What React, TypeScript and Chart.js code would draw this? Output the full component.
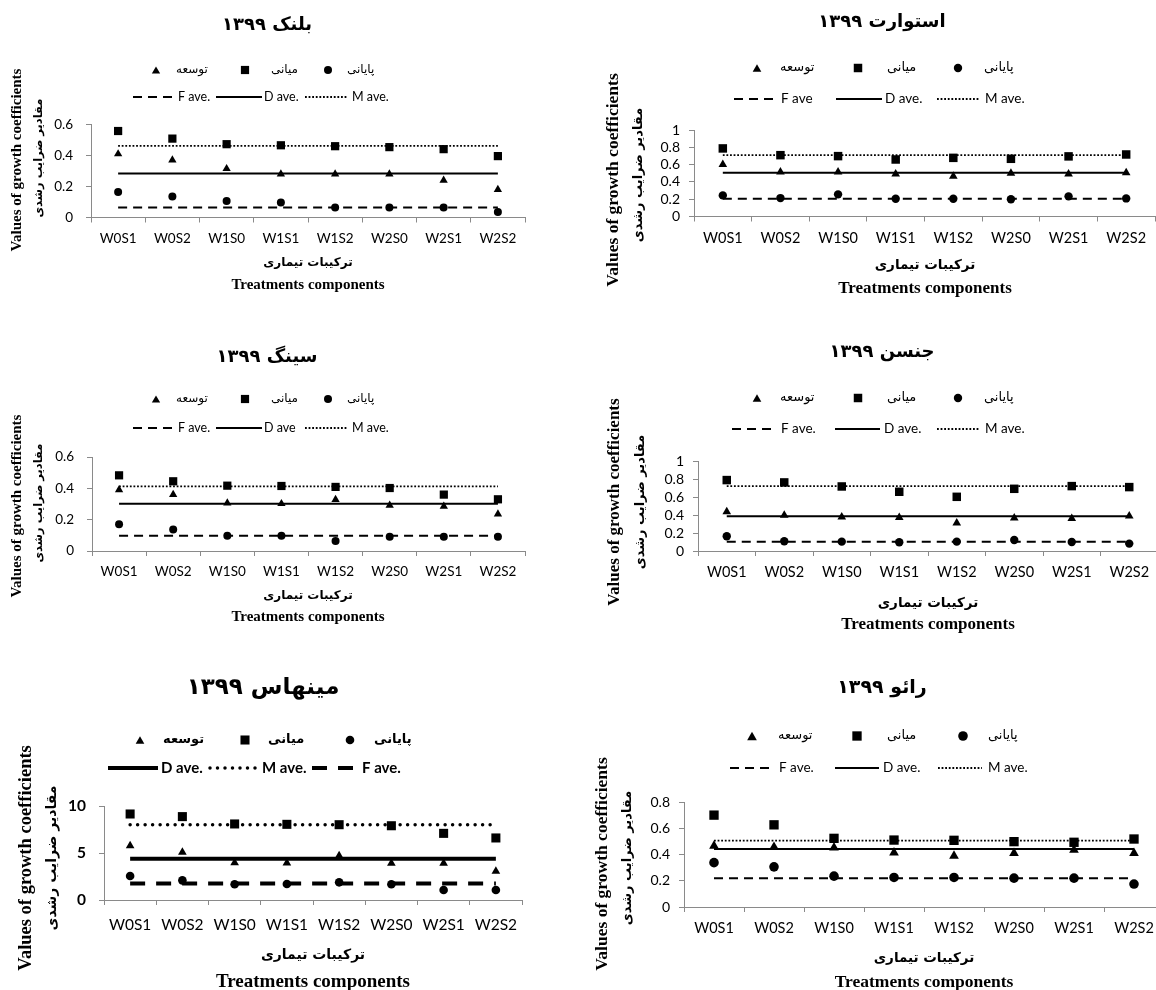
import React, { useEffect, useRef } from 'react';
import { Chart, registerables } from 'chart.js';

Chart.register(...registerables);

// ---------------- shared texts ----------------
const categories = ['W0S1', 'W0S2', 'W1S0', 'W1S1', 'W1S2', 'W2S0', 'W2S1', 'W2S2'];
const markerLabels = ['توسعه', 'میانی', 'پایانی']; // triangle, square, circle
const xTitleFa = 'ترکیبات تیماری';
const xTitleEn = 'Treatments components';
const yTitleEn = 'Values of growth coefficients';
const yTitleFa = 'مقادیر ضرایب رشدی';

// ---------------- بلنک ----------------
const blankTitle = 'بلنک ۱۳۹۹';
const blankDevelopment = [0.41, 0.37, 0.315, 0.28, 0.28, 0.28, 0.24, 0.18];
const blankMiddle = [0.558, 0.509, 0.473, 0.466, 0.46, 0.454, 0.441, 0.396];
const blankFinal = [0.165, 0.136, 0.106, 0.097, 0.064, 0.064, 0.064, 0.036];
const blankAverages = [0.064, 0.284, 0.462]; // F, D, M
const blankAverageLabels = ['F ave.', 'D ave.', 'M ave.'];
const blankYTicks = [0, 0.2, 0.4, 0.6];

// ---------------- استوارت ----------------
const stewartTitle = 'استوارت ۱۳۹۹';
const stewartDevelopment = [0.6, 0.515, 0.515, 0.49, 0.465, 0.5, 0.49, 0.505];
const stewartMiddle = [0.787, 0.709, 0.698, 0.659, 0.678, 0.667, 0.695, 0.717];
const stewartFinal = [0.244, 0.213, 0.256, 0.205, 0.205, 0.2, 0.233, 0.209];
const stewartAverages = [0.205, 0.505, 0.71];
const stewartAverageLabels = ['F ave', 'D ave.', 'M ave.'];
const stewartYTicks = [0, 0.2, 0.4, 0.6, 0.8, 1];

// ---------------- سینگ ----------------
const singhTitle = 'سینگ ۱۳۹۹';
const singhDevelopment = [0.39, 0.36, 0.306, 0.302, 0.328, 0.291, 0.285, 0.236];
const singhMiddle = [0.483, 0.445, 0.417, 0.415, 0.409, 0.402, 0.36, 0.33];
const singhFinal = [0.17, 0.138, 0.098, 0.098, 0.064, 0.091, 0.091, 0.091];
const singhAverages = [0.098, 0.302, 0.413];
const singhAverageLabels = ['F ave.', 'D ave', 'M ave.'];
const singhYTicks = [0, 0.2, 0.4, 0.6];

// ---------------- جنسن ----------------
const jensenTitle = 'جنسن ۱۳۹۹';
const jensenDevelopment = [0.435, 0.398, 0.379, 0.372, 0.312, 0.368, 0.361, 0.39];
const jensenMiddle = [0.788, 0.762, 0.717, 0.658, 0.602, 0.691, 0.721, 0.71];
const jensenFinal = [0.164, 0.108, 0.104, 0.097, 0.104, 0.123, 0.1, 0.082];
const jensenAverages = [0.104, 0.387, 0.721];
const jensenAverageLabels = ['F ave.', 'D ave.', 'M ave.'];
const jensenYTicks = [0, 0.2, 0.4, 0.6, 0.8, 1];

// ---------------- مینهاس ----------------
const minhasTitle = 'مینهاس ۱۳۹۹';
const minhasDevelopment = [5.78, 5.07, 3.97, 3.94, 4.7, 3.9, 3.9, 3.05];
const minhasMiddle = [9.15, 8.87, 8.09, 8.05, 8.01, 7.9, 7.09, 6.6];
const minhasFinal = [2.55, 2.09, 1.67, 1.7, 1.88, 1.67, 1.06, 1.06];
const minhasAverages = [1.75, 4.4, 8.0];
const minhasAverageLabels = ['F ave.', 'D ave.', 'M ave.'];
const minhasYTicks = [0, 5, 10];

// ---------------- رائو ----------------
const raoTitle = 'رائو ۱۳۹۹';
const raoDevelopment = [0.465, 0.457, 0.452, 0.414, 0.389, 0.41, 0.434, 0.41];
const raoMiddle = [0.7, 0.626, 0.523, 0.51, 0.508, 0.498, 0.493, 0.518];
const raoFinal = [0.338, 0.306, 0.235, 0.225, 0.225, 0.22, 0.22, 0.175];
const raoAverages = [0.22, 0.442, 0.505];
const raoAverageLabels = ['F ave.', 'D ave.', 'M ave.'];
const raoYTicks = [0, 0.2, 0.4, 0.6, 0.8];

// ---------------- styles / layout ----------------
const AXIS = '#8a8a8a';
const FA = '"DejaVu Sans"';
const SERIF = '"Liberation Serif", "Times New Roman", serif';
const SANS = 'Lato, "Liberation Sans", sans-serif';

type LineStyle = { width: number; dash: number[]; cap: CanvasLineCap };
const thinLines: LineStyle[] = [
  { width: 2, dash: [9, 6], cap: 'butt' },
  { width: 2, dash: [], cap: 'butt' },
  { width: 1.8, dash: [1.8, 1.8], cap: 'butt' },
];
const boldLines: LineStyle[] = [
  { width: 4, dash: [15, 11], cap: 'butt' },
  { width: 4, dash: [], cap: 'butt' },
  { width: 3.5, dash: [0, 7.5], cap: 'round' },
];

const leftSmallText = {
  faLegendFont: `12px ${FA}`,
  enLegendFont: `12.5px ${SANS}`,
  tickSize: 13.5,
  yTickSize: 13.5,
  yTickBold: false,
  xTickPad: 8,
  yTickPad: 13,
  pointR: [4.8, 5.8, 4],
  lines: thinLines,
};
const rightText = {
  faLegendFont: `13px ${FA}`,
  enLegendFont: `13.5px ${SANS}`,
  tickSize: 14.5,
  yTickSize: 14,
  yTickBold: false,
  xTickPad: 8,
  yTickPad: 9,
  pointR: [5, 6, 4.2],
  lines: thinLines,
};

const blankLayout = {
  ...leftSmallText,
  box: [0, 0, 580, 322],
  area: [91, 124.5, 525, 217.5],
  title: { x: 267, y: 25, size: 18 },
  legendY: [70, 97],
  markerX: [156, 245, 328],
  markerTextX: [176, 271, 347],
  lineSampleX: [[133, 175, 178], [216, 262, 264], [305, 348, 352]],
  xTitle: { x: 308, y: [263, 285], fonts: [`bold 12px ${FA}`, `bold 15px ${SERIF}`] },
  yTitle: { x: [17, 39], y: [160, 158], fonts: [`bold 15px ${SERIF}`, `bold 11.5px ${FA}`] },
};
const singhLayout = {
  ...leftSmallText,
  box: [0, 330, 580, 322],
  area: [92, 457, 525, 551],
  title: { x: 267, y: 357, size: 18 },
  legendY: [399, 428],
  markerX: [156, 245, 328],
  markerTextX: [176, 271, 347],
  lineSampleX: [[133, 175, 178], [216, 262, 264], [305, 348, 352]],
  xTitle: { x: 308, y: [596, 617], fonts: [`bold 12px ${FA}`, `bold 15px ${SERIF}`] },
  yTitle: { x: [17, 39], y: [506, 503], fonts: [`bold 15px ${SERIF}`, `bold 11.5px ${FA}`] },
};
const minhasLayout = {
  faLegendFont: `bold 13px ${FA}`,
  enLegendFont: `bold 15px ${SANS}`,
  tickSize: 15.5,
  yTickSize: 15.5,
  yTickBold: true,
  xTickPad: 11,
  yTickPad: 13,
  pointR: [5, 6.4, 4.3],
  lines: boldLines,
  box: [0, 660, 580, 330],
  area: [104, 806, 522, 900],
  title: { x: 263, y: 688, size: 23 },
  legendY: [740, 768],
  markerX: [140, 245, 350],
  markerTextX: [163, 268, 374],
  lineSampleX: [[312, 353, 362], [108, 158, 161], [210, 257, 262]],
  xTitle: { x: 313, y: [955, 982], fonts: [`bold 14px ${FA}`, `bold 19px ${SERIF}`] },
  yTitle: { x: [26, 52], y: [858, 858], fonts: [`bold 18.5px ${SERIF}`, `bold 14px ${FA}`] },
};
const stewartLayout = {
  ...rightText,
  box: [580, 0, 600, 322],
  area: [694, 130, 1155, 216.5],
  title: { x: 882, y: 22, size: 18 },
  legendY: [68, 99],
  markerX: [757, 858, 958],
  markerTextX: [780, 887, 984],
  lineSampleX: [[734, 776, 781], [836, 882, 885], [937, 980, 985]],
  xTitle: { x: 925, y: [265, 289], fonts: [`bold 13.5px ${FA}`, `bold 17px ${SERIF}`] },
  yTitle: { x: [613, 639], y: [180, 175], fonts: [`bold 17.5px ${SERIF}`, `bold 13px ${FA}`] },
};
const jensenLayout = {
  ...rightText,
  box: [580, 330, 600, 322],
  area: [698, 461, 1158, 551],
  title: { x: 882, y: 352, size: 18 },
  legendY: [398, 429],
  markerX: [757, 858, 958],
  markerTextX: [780, 887, 984],
  lineSampleX: [[732, 776, 781], [835, 880, 884], [937, 980, 985]],
  xTitle: { x: 928, y: [603, 625], fonts: [`bold 13.5px ${FA}`, `bold 17px ${SERIF}`] },
  yTitle: { x: [615, 641], y: [502, 502], fonts: [`bold 17px ${SERIF}`, `bold 13px ${FA}`] },
};
const raoLayout = {
  ...rightText,
  pointR: [5.6, 6.6, 4.8],
  box: [580, 660, 600, 330],
  area: [684, 802, 1164, 907],
  title: { x: 882, y: 688, size: 19 },
  legendY: [736, 768],
  markerX: [752, 857, 963],
  markerTextX: [778, 887, 988],
  lineSampleX: [[730, 774, 779], [835, 879, 883], [938, 982, 988]],
  xTitle: { x: 924, y: [958, 982], fonts: [`bold 13.5px ${FA}`, `bold 17.5px ${SERIF}`] },
  yTitle: { x: [602, 628], y: [864, 858], fonts: [`bold 17.5px ${SERIF}`, `bold 13px ${FA}`] },
};

const panels = [
  { title: blankTitle, development: blankDevelopment, middle: blankMiddle, final: blankFinal, averages: blankAverages, averageLabels: blankAverageLabels, yTicks: blankYTicks, layout: blankLayout },
  { title: stewartTitle, development: stewartDevelopment, middle: stewartMiddle, final: stewartFinal, averages: stewartAverages, averageLabels: stewartAverageLabels, yTicks: stewartYTicks, layout: stewartLayout },
  { title: singhTitle, development: singhDevelopment, middle: singhMiddle, final: singhFinal, averages: singhAverages, averageLabels: singhAverageLabels, yTicks: singhYTicks, layout: singhLayout },
  { title: jensenTitle, development: jensenDevelopment, middle: jensenMiddle, final: jensenFinal, averages: jensenAverages, averageLabels: jensenAverageLabels, yTicks: jensenYTicks, layout: jensenLayout },
  { title: minhasTitle, development: minhasDevelopment, middle: minhasMiddle, final: minhasFinal, averages: minhasAverages, averageLabels: minhasAverageLabels, yTicks: minhasYTicks, layout: minhasLayout },
  { title: raoTitle, development: raoDevelopment, middle: raoMiddle, final: raoFinal, averages: raoAverages, averageLabels: raoAverageLabels, yTicks: raoYTicks, layout: raoLayout },
];

function drawMarker(ctx: CanvasRenderingContext2D, style: string, x: number, y: number, r: number) {
  ctx.save();
  ctx.fillStyle = '#000';
  ctx.beginPath();
  if (style === 'triangle') {
    const cy = y + r / 4;
    ctx.moveTo(x, cy - r);
    ctx.lineTo(x + r * 0.866, cy + r * 0.5);
    ctx.lineTo(x - r * 0.866, cy + r * 0.5);
    ctx.closePath();
  } else if (style === 'rect') {
    const s = r * Math.SQRT1_2;
    ctx.rect(x - s, y - s, 2 * s, 2 * s);
  } else {
    ctx.arc(x, y, r, 0, Math.PI * 2);
  }
  ctx.fill();
  ctx.restore();
}

function makeTextPlugin(spec: any) {
  const L = spec.layout;
  const ox = L.box[0];
  const oy = L.box[1];
  return {
    id: 'panelText',
    afterDraw(chart: any) {
      const ctx: CanvasRenderingContext2D = chart.ctx;
      const text = (s: string, x: number, y: number, font: string, align: CanvasTextAlign, rtl: boolean) => {
        ctx.save();
        ctx.font = font;
        ctx.fillStyle = '#000';
        ctx.textAlign = align;
        ctx.textBaseline = 'middle';
        (ctx as any).direction = rtl ? 'rtl' : 'ltr';
        ctx.fillText(s, x - ox, y - oy);
        ctx.restore();
      };
      // chart title
      text(spec.title, L.title.x, L.title.y, `bold ${L.title.size}px ${FA}`, 'center', true);
      // marker legend row
      ['triangle', 'rect', 'circle'].forEach((st, i) => {
        drawMarker(ctx, st, L.markerX[i] - ox, L.legendY[0] - oy, L.pointR[i]);
        text(markerLabels[i], L.markerTextX[i], L.legendY[0], L.faLegendFont, 'left', true);
      });
      // line legend row
      spec.averageLabels.forEach((lab: string, i: number) => {
        const [x0, x1, tx] = L.lineSampleX[i];
        const st: LineStyle = L.lines[i];
        ctx.save();
        ctx.strokeStyle = '#000';
        ctx.lineWidth = st.width;
        ctx.setLineDash(st.dash);
        ctx.lineCap = st.cap;
        ctx.beginPath();
        ctx.moveTo(x0 - ox, L.legendY[1] - oy);
        ctx.lineTo(x1 - ox, L.legendY[1] - oy);
        ctx.stroke();
        ctx.restore();
        text(lab, tx, L.legendY[1], L.enLegendFont, 'left', false);
      });
      // x axis titles
      text(xTitleFa, L.xTitle.x, L.xTitle.y[0], L.xTitle.fonts[0], 'center', true);
      text(xTitleEn, L.xTitle.x, L.xTitle.y[1], L.xTitle.fonts[1], 'center', false);
      // y axis titles (rotated)
      [yTitleEn, yTitleFa].forEach((s, i) => {
        ctx.save();
        ctx.translate(L.yTitle.x[i] - ox, L.yTitle.y[i] - oy);
        ctx.rotate(-Math.PI / 2);
        ctx.font = L.yTitle.fonts[i];
        ctx.fillStyle = '#000';
        ctx.textAlign = 'center';
        ctx.textBaseline = 'middle';
        (ctx as any).direction = i === 1 ? 'rtl' : 'ltr';
        ctx.fillText(s, 0, 0);
        ctx.restore();
      });
    },
  };
}

function buildConfig(spec: any): any {
  const L = spec.layout;
  const [bx, by, bw, bh] = L.box;
  const [al, at, ar, ab] = L.area;
  const Y_W = 60;
  const X_H = 34;
  const ticks: number[] = spec.yTicks;
  const pointDataset = (label: string, data: number[], style: string, r: number) => ({
    label,
    data,
    showLine: false,
    pointStyle: style,
    pointRadius: r,
    pointHoverRadius: r,
    pointBackgroundColor: '#000',
    pointBorderColor: '#000',
    pointBorderWidth: 0,
    borderColor: '#000',
    backgroundColor: '#000',
    clip: false,
  });
  const lineDataset = (label: string, value: number, st: LineStyle) => ({
    label,
    data: categories.map(() => value),
    pointRadius: 0,
    pointHoverRadius: 0,
    borderColor: '#000',
    borderWidth: st.width,
    borderDash: st.dash,
    borderCapStyle: st.cap,
    fill: false,
    tension: 0,
    clip: false,
  });
  return {
    type: 'line',
    data: {
      labels: categories,
      datasets: [
        pointDataset(markerLabels[0], spec.development, 'triangle', L.pointR[0]),
        pointDataset(markerLabels[1], spec.middle, 'rect', L.pointR[1]),
        pointDataset(markerLabels[2], spec.final, 'circle', L.pointR[2]),
        lineDataset(spec.averageLabels[0], spec.averages[0], L.lines[0]),
        lineDataset(spec.averageLabels[1], spec.averages[1], L.lines[1]),
        lineDataset(spec.averageLabels[2], spec.averages[2], L.lines[2]),
      ],
    },
    options: {
      responsive: false,
      animation: false,
      devicePixelRatio: 1,
      events: [],
      layout: {
        padding: {
          left: al - bx - Y_W,
          top: at - by,
          right: bx + bw - ar,
          bottom: by + bh - ab - X_H,
        },
      },
      plugins: {
        legend: { display: false },
        title: { display: false },
        tooltip: { enabled: false },
      },
      scales: {
        x: {
          type: 'category',
          offset: true,
          afterFit: (scale: any) => {
            scale.height = X_H;
          },
          grid: { offset: true, drawOnChartArea: false, drawTicks: true, tickLength: 5, color: AXIS, lineWidth: 1 },
          border: { display: true, color: AXIS, width: 1 },
          ticks: {
            color: '#000',
            padding: L.xTickPad,
            maxRotation: 0,
            minRotation: 0,
            autoSkip: false,
            font: { family: SANS, size: L.tickSize },
          },
        },
        y: {
          type: 'linear',
          min: ticks[0],
          max: ticks[ticks.length - 1],
          afterBuildTicks: (scale: any) => {
            scale.ticks = ticks.map((v) => ({ value: v }));
          },
          afterFit: (scale: any) => {
            scale.width = Y_W;
          },
          grid: { drawOnChartArea: false, drawTicks: true, tickLength: 5, color: AXIS, lineWidth: 1 },
          border: { display: true, color: AXIS, width: 1 },
          ticks: {
            color: '#000',
            padding: L.yTickPad,
            autoSkip: false,
            font: { family: SANS, size: L.yTickSize, weight: L.yTickBold ? 'bold' : 'normal' },
            callback: (v: any) => String(v),
          },
        },
      },
    },
    plugins: [makeTextPlugin(spec)],
  };
}

function Panel({ spec }: { spec: any }) {
  const ref = useRef<HTMLCanvasElement | null>(null);
  useEffect(() => {
    if (!ref.current) return;
    const chart = new Chart(ref.current, buildConfig(spec));
    return () => chart.destroy();
  }, [spec]);
  const [x, y, w, h] = spec.layout.box;
  return (
    <canvas
      ref={ref}
      width={w}
      height={h}
      style={{ position: 'absolute', left: x, top: y, width: w, height: h }}
    />
  );
}

export default function App() {
  return (
    <div
      style={{
        position: 'absolute',
        left: 0,
        top: 0,
        width: 1156,
        height: 990,
        overflow: 'hidden',
        background: '#fff',
      }}
    >
      {panels.map((p, i) => (
        <Panel key={i} spec={p} />
      ))}
    </div>
  );
}
